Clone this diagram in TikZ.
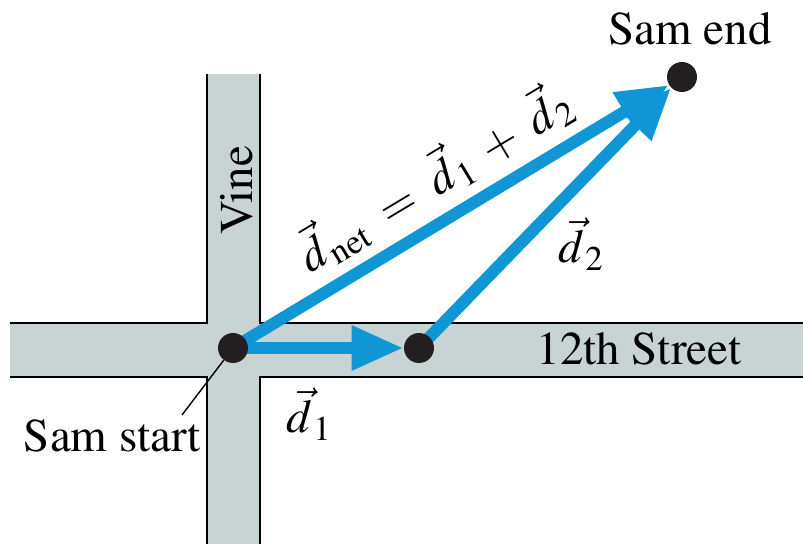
\documentclass[tikz,border=0pt]{standalone}
\usepackage[T1]{fontenc}
\usepackage{mathptmx}
\usetikzlibrary{arrows.meta}
\definecolor{street}{HTML}{C8D3D3}
\definecolor{vecblue}{HTML}{1096D4}
\definecolor{dotc}{HTML}{231F20}
\pgfdeclarelayer{bg}
\pgfsetlayers{bg,main}
\newcommand\vd[1]{\vec{d}_{\,\mathrm{#1}}}
\begin{document}
\begin{tikzpicture}[x=0.5pt,y=-0.5pt,
  every node/.style={font=\fontsize{23.5}{28}\selectfont},
  dot/.style={circle,fill=dotc,inner sep=0pt,minimum size=15pt},
  edgeline/.style={line width=1.1pt,draw=black},
  vecarrow/.style={draw=vecblue,line width=6pt,-{Triangle[length=26pt,width=21pt]}},
  leader/.style={line width=0.7pt,draw=black}]
\useasboundingbox (0,0) rectangle (803,544);
% dots
\node[dot] (s) at (233,348) {};
\node[dot] (m) at (419,348) {};
\node[dot] (e) at (682,77) {};
\begin{pgfonlayer}{bg}
  \fill[street] (10,323) rectangle (803,377);
  \fill[street] (207,74) rectangle (260,544);
  \draw[edgeline] (10,323) -- (207,323) -- (207,74);
  \draw[edgeline] (260,74) -- (260,323) -- (803,323);
  \draw[edgeline] (10,377) -- (207,377) -- (207,544);
  \draw[edgeline] (260,544) -- (260,377) -- (803,377);
  \draw[vecarrow] (s.center) -- (m);
  \draw[vecarrow] (m.center) -- (e);
  \draw[vecarrow] (s.center) -- (e);
\end{pgfonlayer}
% labels
\node[anchor=base] (samend) at (690,45) {Sam end};
\node[anchor=base] (samstart) at (112,452) {Sam start};
\coordinate (lead) at (182,415);
\draw[leader] (s) -- (lead);
\node[anchor=base,rotate=90] (vine) at (252,190) {Vine};
\node[anchor=base] (street12) at (639,365) {12th Street};
\node[anchor=base] (d1) at (309,433) {$\vd{1}$};
\node[anchor=base] (d2) at (581,263) {$\vd{2}$};
\node[rotate=31] (dnet) at (434,177) {$\vd{net} \;=\; \vd{1} \;+\; \vd{2}$};
\end{tikzpicture}
\end{document}
